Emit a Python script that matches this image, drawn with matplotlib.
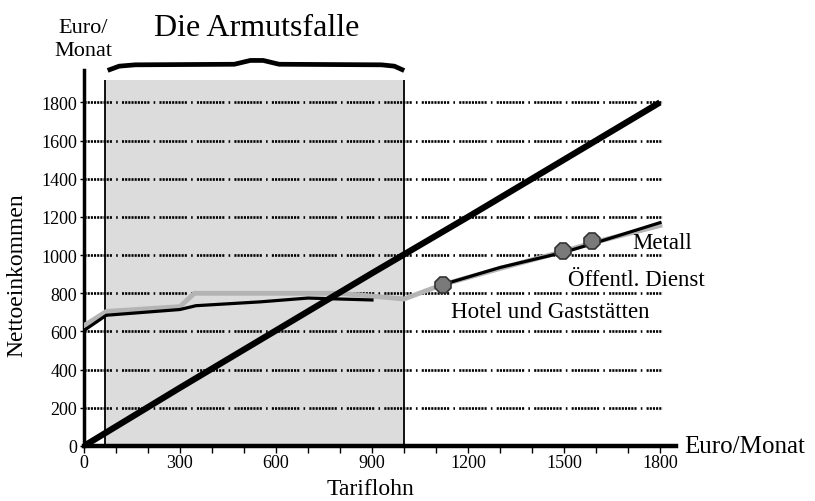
import numpy as np
import matplotlib
matplotlib.use("Agg")
import matplotlib.pyplot as plt

plt.rcParams['font.family'] = ['Liberation Serif', 'DejaVu Serif']

# Daten
grid_levels = [200, 400, 600, 800, 1000, 1200, 1400, 1600, 1800]
y_ticks = [0, 200, 400, 600, 800, 1000, 1200, 1400, 1600, 1800]
x_ticks = [0, 300, 600, 900, 1200, 1500, 1800]

# Netto = Tarif (Diagonale)
diag_x = [0, 300, 600, 900, 1200, 1500, 1800]
diag_y = [0, 305, 605, 905, 1200, 1500, 1800]

# Tarifkurven (grau / schwarz, überlagert)
grau_x = [0, 70, 300, 345, 800, 1000, 1120, 1300, 1500, 1590, 1800]
grau_y = [630, 705, 730, 800, 800, 770, 845, 930, 1020, 1065, 1155]
schwarz_x = [0, 70, 300, 350, 550, 700, 900, np.nan, 1120, 1300, 1500, 1590, 1800]
schwarz_y = [605, 685, 715, 735, 755, 775, 765, np.nan, 845, 935, 1015, 1060, 1170]

# Marker
punkte_x = [1122, 1497, 1587]
punkte_y = [843, 1021, 1073]

falle_von, falle_bis, falle_oben = 65, 1000, 1920

fig = plt.figure(figsize=(8.15, 5.02), dpi=100)
ax = fig.add_axes([0.103, 0.1096, 0.7264, 0.749])
ax.set_xlim(0, 1850)
ax.set_ylim(0, 1970)

# Armutsfalle-Bereich
ax.fill_between([falle_von, falle_bis], 0, falle_oben, color='#dcdcdc', zorder=0, lw=0)
ax.vlines([falle_von, falle_bis], 0, falle_oben, color='black', lw=1.3, zorder=1)

# Gitterlinien
muster = (0, (0.8, 0.4) * 8 + (0.8, 1.6, 0.6, 1.6))
ax.hlines(grid_levels, 0, 1806, colors='black', lw=1.9, linestyles=[muster], zorder=2)

ax.plot(diag_x, diag_y, color='black', lw=4.5, solid_capstyle='butt', zorder=4)
ax.plot(grau_x, grau_y, color='#b4b4b4', lw=3.5, zorder=3)
ax.plot(schwarz_x, schwarz_y, color='black', lw=2.3, zorder=3)
ax.plot(punkte_x, punkte_y, linestyle='none', marker='8', markersize=12,
        markerfacecolor='#7a7a7a', markeredgecolor='#333333', markeredgewidth=1.2, zorder=5)

# Beschriftungen
ax.text(1712, 1068, 'Metall', fontsize=16.5, va='center', ha='left')
ax.text(1512, 874, 'Öffentl. Dienst', fontsize=16.5, va='center', ha='left')
ax.text(1147, 707, 'Hotel und Gaststätten', fontsize=16.5, va='center', ha='left')

# Klammer über dem Bereich
bx = [81, 110, 160, 470, 500, 520, 560, 580, 610, 930, 970, 994]
by = [1972, 1990, 1997, 2000, 2012, 2020, 2020, 2012, 2000, 1997, 1990, 1972]
ax.plot(bx, by, color='black', lw=3.4, clip_on=False, solid_joinstyle='round')

# Achsen
for s in ['top', 'right']:
    ax.spines[s].set_visible(False)
ax.spines['left'].set_linewidth(2.5)
ax.spines['bottom'].set_linewidth(3.2)
ax.set_xticks(x_ticks)
ax.set_xticks(np.arange(100, 1850, 100), minor=True)
ax.set_yticks(y_ticks)
ax.tick_params(axis='x', which='both', direction='out', length=5, width=1, labelsize=13, pad=1)
ax.tick_params(axis='y', direction='out', length=3, width=1, labelsize=13, pad=2)

fig.text(0.021, 0.452, 'Nettoeinkommen', fontsize=17, rotation=90, ha='center', va='center')
fig.text(0.455, 0.024, 'Tariflohn', fontsize=17, ha='center', va='center')
fig.text(0.102, 0.878, 'Euro/\nMonat', fontsize=16, ha='center', va='bottom', linespacing=1.3)
fig.text(0.189, 0.944, 'Die Armutsfalle', fontsize=23, ha='left', va='center')
fig.text(0.84, 0.109, 'Euro/Monat', fontsize=18, ha='left', va='center')

fig.savefig('out.png', dpi=100)
